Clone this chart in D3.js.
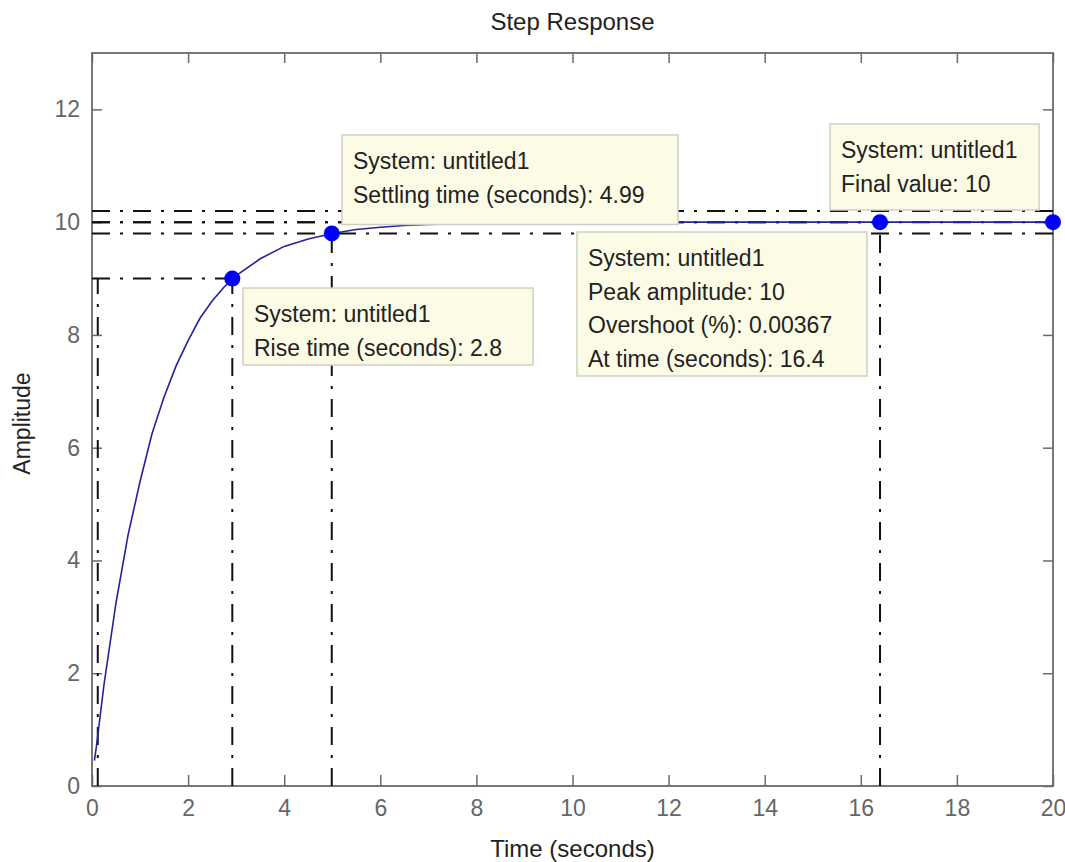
<!DOCTYPE html>
<html>
<head>
<meta charset="utf-8">
<script src="https://cdn.jsdelivr.net/npm/d3@7"></script>
<style>
  body { margin: 0; background: #fff; }
  svg { display: block; }
</style>
</head>
<body>
<script>
// step response samples
const times = [0.05, 0.1, 0.25, 0.5, 0.75, 1, 1.25, 1.5, 1.75, 2, 2.25, 2.5, 2.75, 3,
  3.5, 4, 4.5, 5, 5.5, 6, 6.5, 7, 7.5, 8, 9, 10, 12, 14, 16, 18, 20];
const amplitude = [0.45, 0.75, 1.8, 3.25, 4.45, 5.4, 6.25, 6.9, 7.45, 7.9, 8.3, 8.6, 8.85, 9.05,
  9.35, 9.57, 9.7, 9.8, 9.87, 9.91, 9.94, 9.96, 9.97, 9.98, 9.99, 9.995, 10, 10, 10, 10, 10];

const xTicks = [0, 2, 4, 6, 8, 10, 12, 14, 16, 18, 20];
const yTicks = [0, 2, 4, 6, 8, 10, 12];

// characteristic points [t, y]
const risePoint = [2.92, 9];
const riseStart = 0.12;
const settlePoint = [4.99, 9.8];
const settleBand = [9.8, 10.2];
const peakPoint = [16.4, 10];
const finalPoint = [20, 10];

const riseText = ["System: untitled1", "Rise time (seconds): 2.8"];
const settleText = ["System: untitled1", "Settling time (seconds): 4.99"];
const peakText = ["System: untitled1", "Peak amplitude: 10", "Overshoot (%): 0.00367", "At time (seconds): 16.4"];
const finalText = ["System: untitled1", "Final value: 10"];

const width = 1065, height = 862;
const marginLeft = 92, marginTop = 53, marginRight = 12, marginBottom = 76;
const font = "'Liberation Sans', Arial, sans-serif";

const x = d3.scaleLinear([0, 20], [marginLeft, width - marginRight]);
const y = d3.scaleLinear([0, 13], [height - marginBottom, marginTop]);

const svg = d3.select("body").append("svg")
  .attr("width", width)
  .attr("height", height)
  .attr("font-family", font);

const axisColor = "#6a6a6a";

// axes (ticks point inward, like matlab)
const styleAxis = (g) => {
  g.select(".domain").remove();
  g.selectAll(".tick line").attr("stroke", axisColor).attr("stroke-width", 1.5);
  g.selectAll(".tick text").attr("fill", "#666").attr("font-size", 23).attr("font-family", font);
};

svg.append("g")
  .attr("transform", `translate(0,${y(0)})`)
  .call(d3.axisBottom(x).tickValues(xTicks).tickSizeInner(-11).tickSizeOuter(0).tickPadding(14))
  .call(styleAxis);
svg.append("g")
  .attr("transform", `translate(0,${y(13)})`)
  .call(d3.axisTop(x).tickValues(xTicks).tickSizeInner(-10).tickSizeOuter(0).tickFormat(""))
  .call(styleAxis);
svg.append("g")
  .attr("transform", `translate(${x(0)},0)`)
  .call(d3.axisLeft(y).tickValues(yTicks).tickSizeInner(-10).tickSizeOuter(0).tickPadding(12))
  .call(styleAxis);
svg.append("g")
  .attr("transform", `translate(${x(20)},0)`)
  .call(d3.axisRight(y).tickValues(yTicks).tickSizeInner(-10).tickSizeOuter(0).tickFormat(""))
  .call(styleAxis);

svg.append("rect")
  .attr("x", x(0)).attr("y", y(13))
  .attr("width", x(20) - x(0)).attr("height", y(0) - y(13))
  .attr("fill", "none")
  .attr("stroke", axisColor)
  .attr("stroke-width", 1.8);

// dash-dot guide lines
const guides = [
  [[riseStart, 0], [riseStart, risePoint[1]]],
  [[risePoint[0], 0], risePoint],
  [[0, risePoint[1]], risePoint],
  [[settlePoint[0], 0], settlePoint],
  [[0, settleBand[0]], [20, settleBand[0]]],
  [[0, settleBand[1]], [20, settleBand[1]]],
  [[peakPoint[0], 0], peakPoint],
  [[0, peakPoint[1]], peakPoint],
  [[0, finalPoint[1]], finalPoint]
];

svg.append("g")
  .attr("stroke", "#111")
  .attr("stroke-width", 2)
  .attr("stroke-dasharray", "18,10,3,10")
  .attr("fill", "none")
  .selectAll("line")
  .data(guides)
  .join("line")
  .attr("x1", (d) => x(d[0][0]))
  .attr("y1", (d) => y(d[0][1]))
  .attr("x2", (d) => x(d[1][0]))
  .attr("y2", (d) => y(d[1][1]));

// response curve
const line = d3.line().x((d) => x(d[0])).y((d) => y(d[1]));
svg.append("path")
  .datum(d3.zip(times, amplitude))
  .attr("d", line)
  .attr("fill", "none")
  .attr("stroke", "#23239a")
  .attr("stroke-width", 1.6);

// data tips (pixel boxes)
const tips = [
  { lines: settleText, bx: 342, by: 135, bw: 336, bh: 89.5 },
  { lines: riseText, bx: 243, by: 288, bw: 290, bh: 77 },
  { lines: peakText, bx: 577, by: 232, bw: 290, bh: 144 },
  { lines: finalText, bx: 830, by: 124, bw: 209, bh: 86 }
];

const tip = svg.append("g")
  .selectAll("g")
  .data(tips)
  .join("g");

tip.append("rect")
  .attr("x", (d) => d.bx)
  .attr("y", (d) => d.by)
  .attr("width", (d) => d.bw)
  .attr("height", (d) => d.bh)
  .attr("fill", "#fcfce6")
  .attr("stroke", "#cfcfc4")
  .attr("stroke-width", 1.5);

tip.selectAll("text")
  .data((d) => d.lines.map((t, i) => ({ t, i, d })))
  .join("text")
  .attr("x", (e) => e.d.bx + 11)
  .attr("y", (e) => e.d.by + 34 + e.i * 33.5)
  .attr("font-size", 23)
  .attr("fill", "#222")
  .text((e) => e.t);

// markers
svg.append("g")
  .attr("fill", "#0000ff")
  .selectAll("circle")
  .data([risePoint, settlePoint, peakPoint, finalPoint])
  .join("circle")
  .attr("cx", (d) => x(d[0]))
  .attr("cy", (d) => y(d[1]))
  .attr("r", 8);

// titles
svg.append("text")
  .attr("x", (x(0) + x(20)) / 2)
  .attr("y", 30)
  .attr("text-anchor", "middle")
  .attr("font-size", 24)
  .attr("fill", "#222")
  .text("Step Response");

svg.append("text")
  .attr("x", (x(0) + x(20)) / 2)
  .attr("y", 857)
  .attr("text-anchor", "middle")
  .attr("font-size", 24)
  .attr("fill", "#222")
  .text("Time (seconds)");

svg.append("text")
  .attr("transform", `translate(30,${(y(0) + y(13)) / 2 + 4}) rotate(-90)`)
  .attr("text-anchor", "middle")
  .attr("font-size", 23)
  .attr("fill", "#222")
  .text("Amplitude");
</script>
</body>
</html>
